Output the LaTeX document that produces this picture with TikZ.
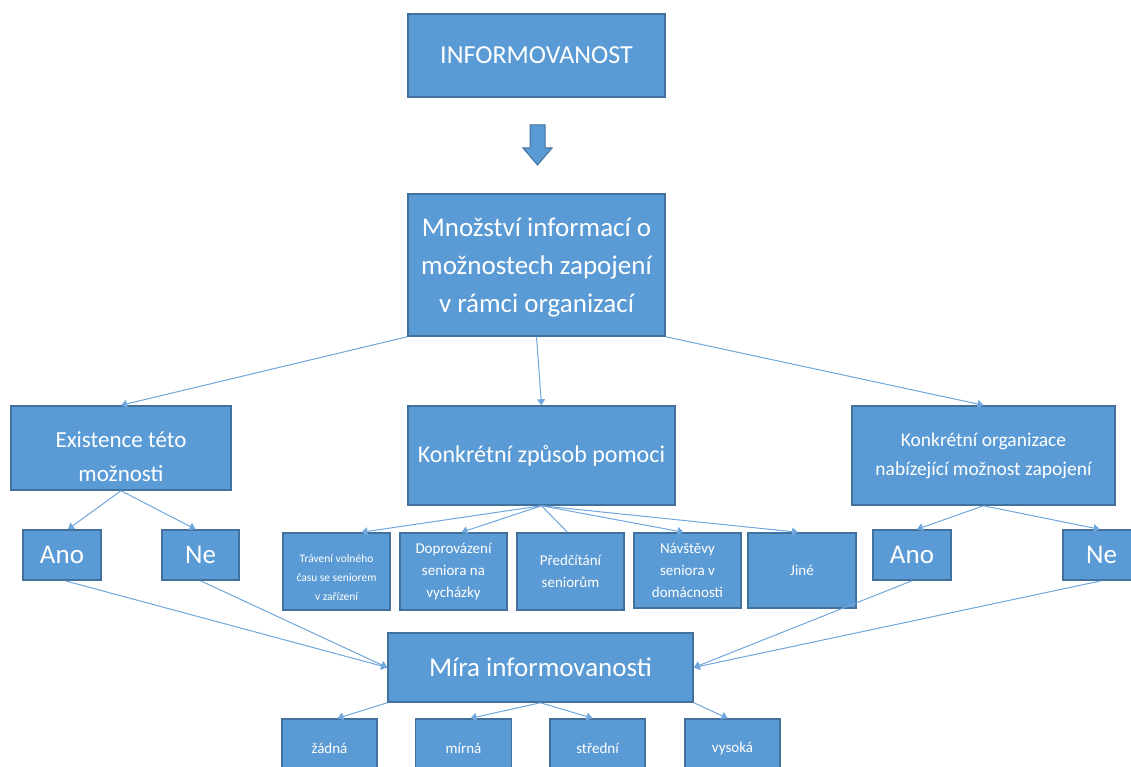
\documentclass[tikz,border=0pt]{standalone}
\usepackage{fontspec}
\setmainfont{Carlito}
\usetikzlibrary{arrows.meta,calc}
\definecolor{boxfill}{HTML}{5B9BD5}
\definecolor{boxline}{HTML}{41719C}
\definecolor{conn}{HTML}{6FA6DC}
\tikzset{
  box/.style={rectangle, fill=boxfill, draw=boxline, line width=1.5pt, text=white, align=center, inner sep=2pt},
  conn/.style={draw=conn, line width=1pt, -{Triangle[width=8pt,length=6pt]}},
  connplain/.style={draw=conn, line width=1pt},
  fs/.style args={#1/#2}{font=\fontsize{#1}{#2}\selectfont}
}
\newcommand{\lowered}[2]{\raisebox{-#1}[0pt][0pt]{\begin{tabular}{@{}c@{}}#2\end{tabular}}}
\begin{document}
\begin{tikzpicture}[x=1pt,y=-1pt]
\useasboundingbox (0,0) rectangle (1131,767);
% nodes
\node[box, fs=26/30, minimum width=257, minimum height=83] (info) at (536.5,55.5) {INFORMOVANOST};
\node[box, fs=27/38, minimum width=257, minimum height=142] (mnoz) at (536.5,265) {\lowered{8pt}{Množství informací o\\možnostech zapojení\\v rámci organizací}};
\node[box, fs=23/34, minimum width=220, minimum height=84] (exist) at (121,448) {\lowered{16pt}{Existence této\\možnosti}};
\node[box, fs=24/30, minimum width=267, minimum height=99] (zpus) at (541.5,455.5) {Konkrétní způsob pomoci};
\node[box, fs=19.5/29, minimum width=263, minimum height=99] (org) at (983.5,455.5) {Konkrétní organizace\\nabízející možnost zapojení};
\node[box, fs=27/30, minimum width=78, minimum height=50] (anoL) at (62,555) {Ano};
\node[box, fs=27/30, minimum width=77, minimum height=50] (neL) at (200.5,555) {Ne};
\node[box, fs=11.5/19, minimum width=107, minimum height=77] (t1) at (336.5,571.5) {\lowered{9pt}{Trávení volného\\času se seniorem\\v zařízení}};
\node[box, fs=15/22, minimum width=107, minimum height=77] (t2) at (453.5,571.5) {Doprovázení\\seniora na\\vycházky};
\node[box, fs=15/22, minimum width=107, minimum height=77] (t3) at (570.5,571.5) {Předčítání\\seniorům};
\node[box, fs=15/22, minimum width=107, minimum height=75] (t4) at (687.5,570.5) {Návštěvy\\seniora v\\domácnosti};
\node[box, fs=15/22, minimum width=108, minimum height=75] (t5) at (802,570.5) {Jiné};
\node[box, fs=27/30, minimum width=78, minimum height=50] (anoR) at (912,555) {Ano};
\node[box, fs=27/30, minimum width=77, minimum height=50] (neR) at (1101.5,555) {Ne};
\node[box, fs=27/30, minimum width=305, minimum height=69] (mira) at (540.5,667.5) {Míra informovanosti};
\node[box, fs=15/20, minimum width=95, minimum height=58] (b1) at (329.5,748) {žádná};
\node[box, fs=15/20, minimum width=96, minimum height=58] (b2) at (463.5,748) {mírná};
\node[box, fs=15/20, minimum width=95, minimum height=58] (b3) at (597.5,748) {střední};
\node[box, fs=15/20, minimum width=95, minimum height=58] (b4) at (732.5,748) {vysoká};
% block arrow
\fill[boxfill, draw=boxline, line width=1pt] (530,125) -- (545,125) -- (545,148) -- (552,148) -- (537.5,165) -- (523,148) -- (530,148) -- cycle;
% connectors
\draw[conn] (mnoz.south west) -- (exist.north);
\draw[conn] (mnoz.south) -- (zpus.north);
\draw[conn] (mnoz.south east) -- (org.north);
\draw[conn] (exist.south) -- ([xshift=6]anoL.north);
\draw[conn] (exist.south) -- ([xshift=-5]neL.north);
\draw[conn] (zpus.south) -- ([xshift=25]t1.north);
\draw[conn] (zpus.south) -- ([xshift=8]t2.north);
\draw[connplain] (zpus.south) -- ([xshift=-3]t3.north);
\draw[conn] (zpus.south) -- ([xshift=-4]t4.north);
\draw[conn] (zpus.south) -- ([xshift=-4]t5.north);
\draw[conn] (org.south) -- ([xshift=5]anoR.north);
\draw[conn] (org.south) -- ([xshift=-2]neR.north);
\draw[conn] ([xshift=3]anoL.south) -- (mira.west);
\draw[conn] (neL.south) -- (mira.west);
\draw[conn] (anoR.south) -- (mira.east);
\draw[conn] (neR.south) -- (mira.east);
\draw[conn] (mira.south west) -- ([xshift=8]b1.north);
\draw[conn] (mira.south) -- ([xshift=7]b2.north);
\draw[conn] (mira.south) -- ([xshift=-5]b3.north);
\draw[conn] (mira.south east) -- ([xshift=-5]b4.north);
\end{tikzpicture}
\end{document}
